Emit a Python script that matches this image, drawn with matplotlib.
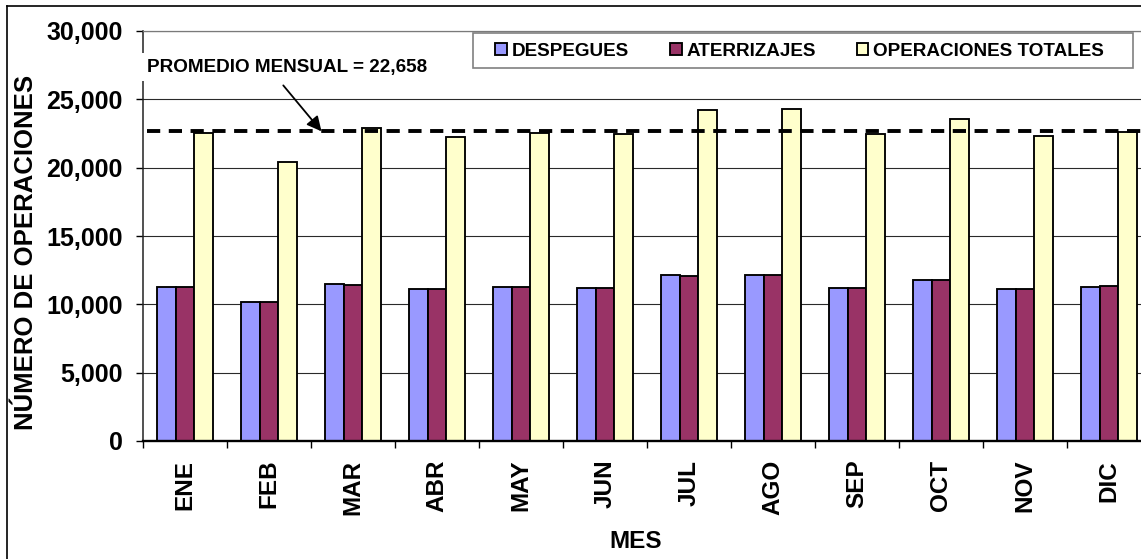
import matplotlib
matplotlib.use("Agg")
import matplotlib.pyplot as plt
from matplotlib.patches import Rectangle
from matplotlib.lines import Line2D
from matplotlib.ticker import FixedLocator, FuncFormatter

plt.rcParams['font.family'] = ['Liberation Sans', 'DejaVu Sans']
plt.rcParams['font.weight'] = 'bold'

# Monthly operations
meses = ["ENE", "FEB", "MAR", "ABR", "MAY", "JUN",
         "JUL", "AGO", "SEP", "OCT", "NOV", "DIC"]
despegues = [11290, 10190, 11460, 11150, 11270, 11220,
             12150, 12120, 11220, 11760, 11150, 11240]
aterrizajes = [11250, 10170, 11450, 11100, 11250, 11220,
               12100, 12170, 11220, 11760, 11150, 11310]
totales = [22560, 20390, 22930, 22270, 22510, 22440,
           24220, 24290, 22460, 23560, 22340, 22590]
promedio = 22658

series_names = ["DESPEGUES", "ATERRIZAJES", "OPERACIONES TOTALES"]
series_colors = ["#9999FF", "#993366", "#FFFFCC"]

W, H = 1141, 559
fig = plt.figure(figsize=(W / 100, H / 100), dpi=100)
fig.patch.set_facecolor("white")


def px(x, y):
    return x / W, 1 - y / H


ax = fig.add_axes([143 / W, (H - 441) / H, (1151 - 143) / W, (441 - 31) / H])

x = list(range(len(meses)))
bw = 0.222
handles = []
for k, (vals, name, col) in enumerate(zip([despegues, aterrizajes, totales],
                                          series_names, series_colors)):
    off = (k - 1) * bw
    bars = ax.bar([i + off for i in x], vals, width=bw, color=col,
                  edgecolor="black", linewidth=1.35, label=name, zorder=2)
    handles.append(bars)

ax.set_xlim(-0.5, len(meses) - 0.5)
ax.set_ylim(0, 30000)

# grid & spines
ax.yaxis.grid(True, color="#2a2a2a", linewidth=0.8, zorder=0)
ax.set_axisbelow(True)
ax.spines["right"].set_visible(False)
ax.spines["top"].set_color("#7a7a7a")
ax.spines["top"].set_linewidth(0.9)
ax.spines["left"].set_color("#222222")
ax.spines["left"].set_linewidth(1.1)
ax.spines["bottom"].set_linewidth(1.7)

ax.set_yticks(range(0, 30001, 5000))
ax.yaxis.set_major_formatter(FuncFormatter(lambda v, p: f"{int(v):,}"))
ax.tick_params(axis="y", direction="out", length=5, width=1, pad=9.5,
               labelsize=18)

ax.set_xticks(x)
ax.set_xticklabels(meses, rotation=90, va="top", ha="center")
ax.tick_params(axis="x", which="major", length=0, pad=13.5, labelsize=17.5)
ax.xaxis.set_minor_locator(FixedLocator([i - 0.5 for i in range(len(meses) + 1)]))
ax.tick_params(axis="x", which="minor", direction="out", length=5, width=1)

# monthly average
ax.hlines(promedio, -0.45, len(meses) - 0.5, colors="black", linewidth=2.8,
          linestyles=(0, (3.4, 2.2)), zorder=3)
ax.text(-0.45, 27360, f"PROMEDIO MENSUAL = {promedio:,}", ha="left",
        va="center", fontsize=13.6, fontweight="bold", zorder=4,
        bbox=dict(boxstyle="square,pad=0.3", facecolor="white",
                  edgecolor="none"))
ax.annotate("", xy=(1.625, promedio), xytext=(1.17, 26020),
            arrowprops=dict(arrowstyle="-|>", color="black", lw=1.3,
                            mutation_scale=22, shrinkA=0, shrinkB=0),
            zorder=4)

# legend with its own frame
fig.add_artist(Rectangle(px(472.7, 68.3), 660 / W, 35 / H,
                         transform=fig.transFigure, facecolor="white",
                         edgecolor="#808080", linewidth=1.2, zorder=4))
fig.legend(handles=handles, labels=series_names, loc="center left",
           bbox_to_anchor=px(495, 51), bbox_transform=fig.transFigure,
           ncol=3, frameon=False, borderpad=0, borderaxespad=0,
           handlelength=0.63, handleheight=0.63, handletextpad=0.26,
           columnspacing=2.15, prop=dict(size=13.6, weight="bold"))

# axis titles
fig.text(*px(26, 252), "NÚMERO DE OPERACIONES", rotation=90, ha="center",
         va="center", fontsize=18.5, fontweight="bold")
fig.text(*px(636, 542), "MES", ha="center", va="center", fontsize=17.5,
         fontweight="bold")

# outer chart frame
fig.add_artist(Line2D([7 / W, 7 / W], [0, 1 - 6 / H], transform=fig.transFigure,
                      color="black", linewidth=1.2))
fig.add_artist(Line2D([7 / W, 1], [1 - 6 / H, 1 - 6 / H],
                      transform=fig.transFigure, color="black", linewidth=1.2))

fig.savefig("out.png", dpi=100)
